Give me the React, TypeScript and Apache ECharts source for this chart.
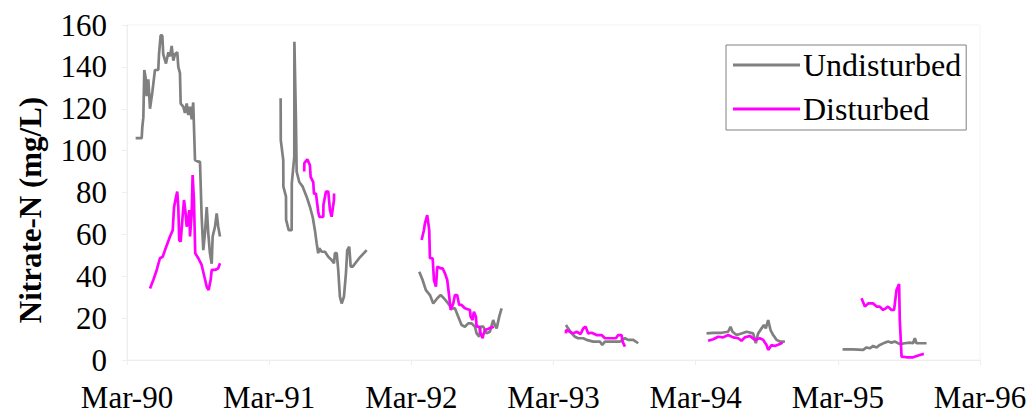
import React, { useEffect, useRef } from "react";
import * as echarts from "echarts";

// x = months since March 1990, y = nitrate-N (mg/L)
const xTickLabels = ["Mar-90", "Mar-91", "Mar-92", "Mar-93", "Mar-94", "Mar-95", "Mar-96"];
const yTicks = [0, 20, 40, 60, 80, 100, 120, 140, 160];

const undisturbed1990: [number, number][] = [
  [0.73, 106], [1.24, 106], [1.29, 111], [1.38, 116], [1.46, 138.5], [1.58, 134.5], [1.66, 126],
  [1.8, 134], [1.94, 120], [2.14, 128], [2.36, 138.5], [2.64, 138.5], [2.7, 146], [2.84, 155],
  [2.98, 155], [3.06, 146], [3.29, 141.6], [3.49, 147], [3.63, 145], [3.77, 150], [3.91, 143],
  [4.05, 146], [4.24, 147], [4.33, 140], [4.47, 137], [4.53, 122.5], [4.75, 121], [4.89, 118],
  [5.04, 122.5], [5.17, 117], [5.32, 121], [5.46, 115], [5.59, 123], [5.74, 95.5], [6.02, 94.7],
  [6.16, 94.7], [6.3, 68.5], [6.44, 52.5], [6.58, 60.6], [6.73, 73], [6.86, 60.5], [7.0, 51],
  [7.15, 46], [7.23, 59], [7.43, 63.7], [7.57, 70], [7.7, 63.7], [7.85, 59],
];
const undisturbed1991: [number, number][] = [
  [12.97, 125], [12.98, 105], [13.19, 95.5], [13.2, 82.8], [13.42, 78], [13.43, 66.9], [13.65, 62],
  [13.9, 62], [13.91, 84.4], [14.12, 97], [14.13, 152], [14.26, 114.6], [14.32, 90], [14.54, 85],
  [14.83, 82.8], [15.16, 78], [15.44, 73.2], [15.67, 68.4], [15.86, 62], [16.01, 55.7], [16.14, 51],
  [16.23, 53.3], [16.43, 51.7], [16.71, 51.7], [16.99, 49.3], [17.27, 47.8], [17.47, 46.2],
  [17.55, 51], [17.7, 51], [17.83, 43], [17.97, 30.2], [18.12, 27], [18.31, 30.2], [18.48, 41.4],
  [18.59, 52.5], [18.76, 54.1], [18.88, 44.6], [19.05, 44.6], [19.58, 48.5], [20.23, 52.5],
];
const undisturbed1992: [number, number][] = [
  [24.67, 42.2], [24.95, 38.2], [25.23, 33.4], [25.57, 31], [25.85, 27], [26.19, 29.5], [26.47, 31],
  [26.75, 29.5], [27.11, 27], [27.4, 24.7], [27.68, 24.7], [27.96, 20.7], [28.24, 16.7],
  [28.52, 15.9], [28.8, 17.5], [29.09, 17.5], [29.37, 15.9], [29.51, 12.7], [29.73, 11.1],
  [29.85, 15.9], [30.07, 15.9], [30.35, 12.7], [30.63, 13.5], [30.91, 19.1], [31.05, 16.7],
  [31.2, 15.1], [31.42, 20.7], [31.62, 24.7],
];
const undisturbed1993: [number, number][] = [
  [37.05, 16.7], [37.24, 15.1], [37.53, 12.7], [37.81, 11.1], [38.08, 10.4], [38.51, 10.4],
  [38.79, 9.6], [39.35, 8.8], [39.92, 8.8], [40.11, 7.2], [40.34, 8.8], [40.9, 8.8], [41.6, 8.8],
  [42.03, 10.4], [42.3, 9.6], [42.73, 9.6], [43.15, 8.0],
];
const undisturbed1994: [number, number][] = [
  [48.92, 12.7], [49.48, 13.0], [50.19, 13.0], [50.74, 13.5], [50.94, 15.9], [51.11, 13.5],
  [51.45, 11.9], [51.87, 12.7], [52.3, 13.5], [52.85, 12.7], [53.08, 8.0], [53.27, 12.7],
  [53.56, 15.1], [53.76, 16.7], [53.92, 15.1], [54.12, 19.1], [54.32, 14.3], [54.54, 11.9],
  [54.83, 9.6], [55.11, 8.8], [55.53, 8.8],
];
const undisturbed1995: [number, number][] = [
  [60.4, 5.1], [61.29, 5.1], [62.14, 4.8], [62.42, 6.0], [62.7, 5.6], [62.98, 6.7], [63.27, 6.0],
  [63.54, 7.2], [63.97, 8.3], [64.24, 8.8], [64.53, 8.3], [64.81, 8.8], [65.23, 7.6], [65.65, 8.0],
  [66.08, 8.3], [66.35, 8.0], [66.5, 10.4], [66.64, 8.0], [66.92, 8.0], [67.49, 8.0],
];

const disturbed1990: [number, number][] = [
  [1.94, 34.2], [2.22, 38.2], [2.51, 43], [2.78, 48.6], [3.01, 49.3], [3.21, 52.5], [3.63, 59],
  [3.86, 62], [3.97, 73], [4.14, 78], [4.24, 80.4], [4.33, 73.2], [4.41, 57.3], [4.53, 56.5],
  [4.67, 66.9], [4.81, 76.4], [4.92, 71.6], [5.04, 63.7], [5.15, 67], [5.26, 71.6], [5.32, 59],
  [5.46, 70], [5.54, 88.3], [5.65, 76.4], [5.76, 51], [6.02, 48.6], [6.3, 45.4], [6.5, 40.6],
  [6.73, 35], [6.89, 33.4], [7.06, 38.2], [7.15, 43], [7.43, 43], [7.7, 43.8], [7.85, 46.2],
];
const disturbed1991: [number, number][] = [
  [14.96, 90], [14.97, 94], [15.22, 95.8], [15.44, 93], [15.5, 87.5], [15.72, 85], [15.78, 79.5],
  [15.95, 79.5], [16.14, 70.8], [16.23, 68.4], [16.57, 68.4], [16.58, 74], [16.79, 80.4],
  [16.99, 80.4], [17.13, 71.6], [17.27, 68.4], [17.47, 76.4], [17.48, 79.5],
];
const disturbed1992: [number, number][] = [
  [24.87, 57.3], [25.06, 62], [25.15, 65.3], [25.34, 69.2], [25.51, 62], [25.57, 48.6],
  [25.8, 48.6], [25.91, 38.2], [26.08, 35], [26.19, 44.6], [26.47, 43.8], [26.64, 43.8],
  [26.84, 41.4], [27.03, 38.2], [27.2, 30.2], [27.32, 23.9], [27.54, 27], [27.68, 31], [27.87, 31],
  [28.04, 26.3], [28.24, 26.3], [28.52, 24.7], [28.95, 23.9], [29.0, 20.7], [29.17, 19.1],
  [29.28, 23.1], [29.45, 20.7], [29.51, 15.9], [29.73, 15.9], [29.85, 12.7], [30.02, 10.4],
  [30.07, 11.9], [30.21, 14.3], [30.57, 15.1], [30.97, 15.9],
];
const disturbed1993: [number, number][] = [
  [37.05, 12.7], [37.06, 14.3], [37.38, 13.5], [37.66, 12.7], [37.95, 13.5], [38.29, 12.4],
  [38.51, 15.1], [38.71, 15.9], [38.93, 12.7], [39.22, 13.0], [39.64, 11.9], [40.06, 11.9],
  [40.34, 10.4], [40.76, 10.4], [41.27, 10.4], [41.46, 11.9], [41.75, 11.9], [41.83, 8.8],
  [42.03, 6.4],
];
const disturbed1994: [number, number][] = [
  [49.05, 9.2], [49.48, 9.9], [49.9, 11.1], [50.32, 10.8], [50.74, 11.9], [51.16, 10.8],
  [51.59, 10.4], [51.87, 9.2], [52.15, 10.8], [52.57, 11.5], [53.0, 9.6], [53.42, 10.4],
  [53.7, 9.6], [53.98, 7.2], [54.12, 4.8], [54.41, 7.2], [54.68, 6.7], [55.11, 7.6], [55.33, 8.3],
];
const disturbed1995: [number, number][] = [
  [62.0, 29.5], [62.28, 25.5], [62.56, 27], [62.98, 27], [63.27, 25.5], [63.54, 25.5],
  [63.82, 23.9], [64.05, 24.7], [64.24, 25.5], [64.53, 23.9], [64.75, 23.9], [64.95, 33.4],
  [65.17, 36.3], [65.23, 19.1], [65.38, 1.6], [65.8, 1.3], [66.35, 1.3], [66.92, 2.4], [67.26, 2.9],
];

const undisturbedSegments = [
  undisturbed1990, undisturbed1991, undisturbed1992, undisturbed1993, undisturbed1994, undisturbed1995,
];
const disturbedSegments = [
  disturbed1990, disturbed1991, disturbed1992, disturbed1993, disturbed1994, disturbed1995,
];

function joinSegments(segs: [number, number][][]) {
  const out: any[] = [];
  segs.forEach((s, i) => {
    if (i > 0) out.push([s[0][0] - 0.5, "-"]);
    s.forEach((p) => out.push(p));
  });
  return out;
}

const FONT = "'Liberation Serif', 'Times New Roman', Times, serif";

export default function App() {
  const ref = useRef<HTMLDivElement>(null);
  useEffect(() => {
    if (!ref.current) return;
    const chart = echarts.init(ref.current, undefined, { renderer: "svg" });
    const faint = "#eeeeee";
    chart.setOption({
      animation: false,
      backgroundColor: "#ffffff",
      grid: {
        left: 127,
        right: 53,
        top: 25,
        bottom: 53,
        show: true,
        borderColor: "#f3f3f3",
        borderWidth: 1,
      },
      legend: {
        orient: "vertical",
        left: 726,
        top: 45,
        padding: [4, 5, 5, 7],
        itemGap: 12,
        itemWidth: 67,
        itemHeight: 3,
        borderColor: "#808080",
        borderWidth: 1,
        backgroundColor: "#ffffff",
        textStyle: {
          fontFamily: FONT,
          fontSize: 32,
          lineHeight: 32,
          color: "#000",
          padding: [0, 0, 0, -2],
        },
        data: [
          { name: "Undisturbed", icon: "rect", itemStyle: { color: "#808080" } },
          { name: "Disturbed", icon: "rect", itemStyle: { color: "#ff00ff" } },
        ],
        itemStyle: { borderWidth: 0 },
      },
      graphic: [
        {
          type: "text",
          x: 30,
          y: 210,
          rotation: Math.PI / 2,
          style: {
            text: "Nitrate-N (mg/L)",
            font: `bold 31px ${FONT}`,
            fill: "#000",
            align: "center",
            verticalAlign: "middle",
          },
        },
      ],
      xAxis: {
        type: "value",
        min: 0,
        max: 72,
        interval: 12,
        axisLine: { show: true, lineStyle: { color: faint } },
        axisTick: { show: true, length: 5, lineStyle: { color: faint } },
        splitLine: { show: false },
        axisLabel: {
          fontFamily: FONT,
          fontSize: 31,
          lineHeight: 24,
          color: "#000",
          margin: 25,
          formatter: (v: number) => xTickLabels[Math.round(v / 12)] ?? "",
        },
      },
      yAxis: {
        type: "value",
        min: yTicks[0],
        max: yTicks[yTicks.length - 1],
        interval: 20,
        axisLine: { show: true, lineStyle: { color: faint } },
        axisTick: { show: true, length: 5, lineStyle: { color: faint } },
        splitLine: { show: false },
        axisLabel: { fontFamily: FONT, fontSize: 31, lineHeight: 24, color: "#000", margin: 20 },
      },
      series: [
        {
          name: "Undisturbed",
          type: "line",
          data: joinSegments(undisturbedSegments),
          symbol: "none",
          connectNulls: false,
          lineStyle: { color: "#808080", width: 2.7 },
          itemStyle: { color: "#808080" },
        },
        {
          name: "Disturbed",
          type: "line",
          data: joinSegments(disturbedSegments),
          symbol: "none",
          connectNulls: false,
          lineStyle: { color: "#ff00ff", width: 2.7 },
          itemStyle: { color: "#ff00ff" },
        },
      ],
    });
    return () => chart.dispose();
  }, []);
  return <div ref={ref} style={{ width: 1033, height: 413, position: "absolute", left: 0, top: 0 }} />;
}
